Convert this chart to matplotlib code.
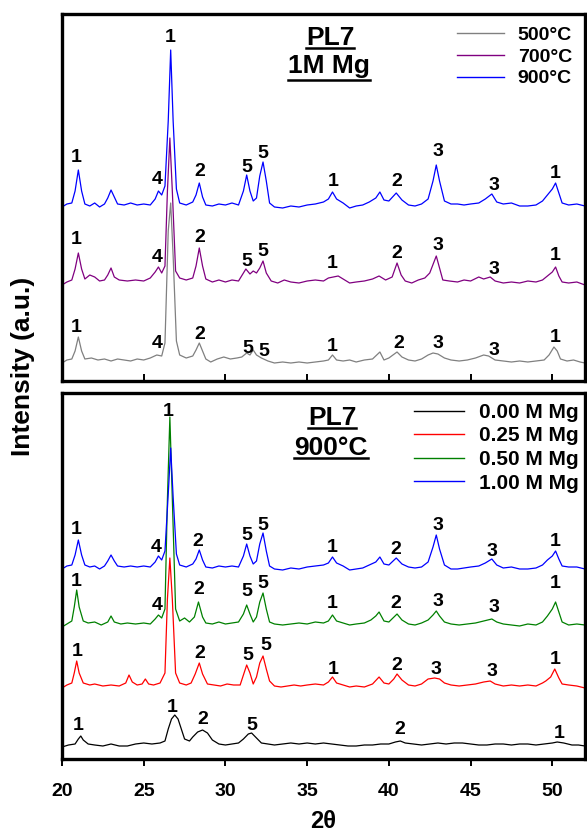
import matplotlib
matplotlib.use('Agg')
import matplotlib.pyplot as plt
from matplotlib.lines import Line2D

plt.rcParams['font.family'] = ['Liberation Sans', 'DejaVu Sans']
plt.rcParams['font.weight'] = 'bold'

W, H = 587, 835

# ---- data: (2theta, intensity a.u.) ----
# top panel: PL7 1M Mg at different temperatures
pts_500 = [(20.0,18),(20.3,21),(20.6,22),(20.8,30),(21.0,44),(21.2,30),(21.4,22),(21.8,23),(22.2,21),
           (22.6,22),(23.0,20),(23.4,22),(23.8,21),(24.2,20),(24.6,22),(25.0,21),(25.4,23),(25.8,26),
           (26.1,25),(26.3,38),(26.5,150),(26.65,178),(26.8,125),(27.0,40),(27.2,26),(27.6,23),(28.0,25),
           (28.2,31),(28.4,38),(28.6,30),(28.8,22),(29.1,19),(29.5,22),(29.9,24),(30.3,22),(30.7,23),
           (31.0,24),(31.3,28),(31.5,26),(31.7,31),(31.9,26),(32.2,23),(32.6,20),(33.0,18),(33.5,19),
           (34.0,18),(34.5,19),(35.0,18),(35.5,19),(36.0,20),(36.3,21),(36.55,26),(36.8,21),(37.2,20),
           (37.6,21),(38.0,19),(38.5,21),(39.0,22),(39.45,29),(39.7,21),(40.0,23),(40.5,29),(40.8,24),
           (41.2,21),(41.6,20),(42.0,22),(42.4,26),(42.7,28),(43.0,27),(43.4,23),(43.8,21),(44.3,20),
           (44.8,21),(45.3,23),(45.8,26),(46.1,25),(46.5,21),(47.0,20),(47.5,19),(48.0,20),(48.5,19),
           (49.0,20),(49.5,21),(49.8,26),(50.1,34),(50.3,30),(50.5,22),(50.9,20),(51.3,21),(51.7,19),(52.0,18)]

pts_700 = [(20.0,96),(20.3,99),(20.6,101),(20.8,112),(21.0,128),(21.2,112),(21.4,102),(21.7,106),(22.0,104),
           (22.3,100),(22.6,101),(22.8,106),(23.0,113),(23.2,104),(23.5,101),(24.0,100),(24.5,101),(25.0,100),
           (25.4,103),(25.7,109),(25.9,114),(26.1,108),(26.3,115),(26.45,190),(26.6,243),(26.75,190),(26.95,110),
           (27.2,103),(27.6,101),(28.0,103),(28.2,115),(28.4,133),(28.6,115),(28.8,102),(29.2,99),(29.6,101),
           (30.0,99),(30.4,101),(30.8,100),(31.1,108),(31.25,112),(31.5,107),(31.7,110),(31.9,108),(32.1,113),
           (32.3,120),(32.5,108),(32.8,100),(33.2,98),(33.6,101),(34.0,99),(34.5,98),(35.0,100),(35.5,101),
           (36.0,100),(36.3,103),(36.6,104),(36.9,105),(37.2,102),(37.6,98),(38.0,99),(38.5,100),(39.0,102),
           (39.4,105),(39.8,101),(40.2,104),(40.5,118),(40.75,106),(41.0,100),(41.4,98),(41.8,101),(42.2,103),
           (42.5,108),(42.9,125),(43.1,113),(43.3,101),(43.7,100),(44.2,99),(44.6,101),(45.0,100),(45.5,104),
           (45.8,102),(46.2,104),(46.5,100),(47.0,98),(47.5,99),(48.0,98),(48.5,100),(49.0,99),(49.4,101),
           (49.7,105),(50.0,109),(50.2,114),(50.4,105),(50.6,99),(51.0,98),(51.5,99),(52.0,96)]

pts_900 = [(20.0,174),(20.3,177),(20.6,178),(20.8,190),(21.0,211),(21.2,190),(21.4,177),(21.7,175),(22.0,178),
           (22.3,174),(22.6,177),(22.8,183),(23.0,191),(23.2,184),(23.4,177),(23.8,176),(24.2,178),(24.6,176),
           (25.0,177),(25.4,176),(25.7,182),(25.9,190),(26.1,186),(26.3,195),(26.5,260),(26.65,331),(26.8,260),
           (27.0,192),(27.2,178),(27.6,176),(28.0,179),(28.2,186),(28.4,198),(28.6,184),(28.8,176),(29.2,175),
           (29.6,177),(30.0,176),(30.4,178),(30.8,176),(31.1,190),(31.3,206),(31.5,190),(31.7,180),(31.9,183),
           (32.1,205),(32.3,219),(32.5,200),(32.7,178),(33.0,174),(33.5,173),(34.0,175),(34.5,174),(35.0,176),
           (35.5,177),(36.0,179),(36.3,182),(36.55,189),(36.8,182),(37.2,178),(37.6,173),(38.0,175),(38.4,176),
           (38.8,179),(39.2,183),(39.45,189),(39.7,181),(40.0,180),(40.45,188),(40.8,181),(41.2,176),(41.6,175),
           (42.0,177),(42.4,182),(42.7,200),(42.9,216),(43.1,200),(43.4,180),(43.8,177),(44.2,177),(44.6,176),
           (45.0,177),(45.5,178),(45.9,182),(46.3,187),(46.6,179),(47.0,177),(47.5,178),(48.0,175),(48.5,175),
           (49.0,176),(49.4,180),(49.7,186),(50.0,192),(50.2,198),(50.4,188),(50.6,178),(51.0,176),(51.5,177),(52.0,175)]

# bottom panel: PL7 900 C at different Mg contents
pts_000 = [(20.0,12),(20.4,14),(20.8,15),(21.0,20),(21.15,23),(21.3,19),(21.6,15),(22.0,14),(22.5,13),
           (23.0,15),(23.5,13),(24.0,13),(24.5,15),(25.0,16),(25.5,15),(26.0,16),(26.3,18),(26.5,30),
           (26.7,40),(26.9,44),(27.1,40),(27.3,30),(27.5,20),(27.8,18),(28.0,22),(28.3,27),(28.6,29),
           (28.9,26),(29.2,19),(29.6,15),(30.0,14),(30.4,15),(30.8,16),(31.1,20),(31.4,25),(31.6,26),
           (31.9,21),(32.2,16),(32.6,15),(33.0,14),(33.5,15),(34.0,16),(34.5,15),(35.0,16),(35.5,15),
           (36.0,16),(36.5,15),(37.0,14),(37.5,13),(38.0,13),(38.5,14),(39.0,14),(39.5,15),(40.0,15),
           (40.4,17),(40.7,18),(41.0,16),(41.5,15),(42.0,14),(42.5,15),(43.0,16),(43.5,15),(44.0,16),
           (44.5,16),(45.0,15),(45.5,14),(46.0,14),(46.5,15),(47.0,15),(47.5,14),(48.0,15),(48.5,15),
           (49.0,14),(49.5,15),(50.0,16),(50.3,17),(50.7,16),(51.2,14),(51.6,14),(52.0,13)]

pts_025 = [(20.0,71),(20.3,74),(20.6,76),(20.75,86),(20.9,98),(21.05,86),(21.3,76),(21.7,74),(22.0,75),
           (22.5,73),(23.0,74),(23.5,73),(23.9,76),(24.1,84),(24.3,77),(24.6,74),(24.9,75),(25.1,80),
           (25.3,75),(25.6,74),(26.0,76),(26.3,86),(26.45,160),(26.6,201),(26.75,160),(26.95,86),(27.2,76),
           (27.6,74),(27.9,76),(28.15,85),(28.4,96),(28.6,85),(28.9,75),(29.3,74),(29.7,73),(30.1,75),
           (30.5,74),(30.9,74),(31.1,84),(31.3,94),(31.5,86),(31.7,75),(31.9,82),(32.1,96),(32.3,103),
           (32.5,90),(32.7,78),(33.0,73),(33.4,72),(33.8,73),(34.2,74),(34.6,73),(35.0,74),(35.5,75),
           (36.0,74),(36.3,77),(36.55,82),(36.8,76),(37.2,74),(37.6,72),(38.0,73),(38.5,72),(39.0,75),
           (39.4,82),(39.7,76),(40.0,75),(40.3,80),(40.5,85),(40.8,79),(41.2,74),(41.6,73),(42.0,75),
           (42.4,80),(42.8,81),(43.1,80),(43.4,76),(43.8,74),(44.3,73),(44.8,74),(45.3,75),(45.8,77),
           (46.2,78),(46.5,75),(47.0,73),(47.5,74),(48.0,73),(48.5,74),(49.0,73),(49.4,76),(49.6,78),
           (49.9,82),(50.15,90),(50.4,81),(50.6,75),(51.0,74),(51.5,73),(52.0,71)]

pts_050 = [(20.0,132),(20.3,135),(20.6,138),(20.75,152),(20.9,169),(21.05,152),(21.3,138),(21.6,136),(22.0,137),
           (22.4,134),(22.8,137),(23.0,143),(23.2,137),(23.6,135),(24.0,136),(24.5,135),(25.0,136),(25.4,135),
           (25.7,140),(25.9,144),(26.1,141),(26.3,150),(26.45,260),(26.6,342),(26.75,260),(26.95,150),(27.2,138),
           (27.5,141),(27.8,137),(28.1,142),(28.35,157),(28.6,142),(28.8,136),(29.2,135),(29.6,137),(30.0,135),
           (30.4,136),(30.8,137),(31.1,145),(31.3,154),(31.5,145),(31.7,137),(31.9,142),(32.1,157),(32.3,166),
           (32.5,150),(32.7,137),(33.0,135),(33.5,134),(34.0,135),(34.5,136),(35.0,135),(35.5,137),(36.0,136),
           (36.3,138),(36.55,144),(36.8,138),(37.2,136),(37.6,134),(38.0,135),(38.5,136),(38.9,139),(39.2,143),
           (39.4,147),(39.7,138),(40.0,137),(40.25,141),(40.5,145),(40.8,139),(41.2,135),(41.6,134),(42.0,136),
           (42.4,139),(42.7,144),(42.9,148),(43.1,143),(43.4,137),(43.8,135),(44.3,134),(44.8,135),(45.3,136),
           (45.8,138),(46.3,140),(46.6,137),(47.0,135),(47.5,134),(48.0,133),(48.5,135),(49.0,134),(49.4,137),
           (49.7,143),(50.0,150),(50.2,157),(50.4,147),(50.6,137),(51.0,134),(51.5,135),(52.0,134)]

pts_100 = [(20.0,190),(20.3,193),(20.6,194),(20.8,204),(21.0,219),(21.2,204),(21.4,194),(21.7,192),(22.0,193),
           (22.3,190),(22.6,193),(22.8,198),(23.0,204),(23.2,198),(23.4,193),(23.8,192),(24.2,193),(24.6,192),
           (25.0,193),(25.4,192),(25.7,197),(25.9,203),(26.1,199),(26.3,208),(26.5,265),(26.65,311),(26.8,262),
           (27.0,205),(27.2,194),(27.6,192),(28.0,195),(28.2,200),(28.4,209),(28.6,199),(28.8,192),(29.2,191),
           (29.6,193),(30.0,192),(30.4,193),(30.8,192),(31.1,203),(31.3,215),(31.5,203),(31.7,195),(31.9,198),
           (32.1,215),(32.3,226),(32.5,208),(32.7,193),(33.0,190),(33.5,189),(34.0,191),(34.5,190),(35.0,192),
           (35.5,193),(36.0,194),(36.3,196),(36.55,202),(36.8,196),(37.2,193),(37.6,189),(38.0,190),(38.4,191),
           (38.8,194),(39.2,197),(39.45,202),(39.7,195),(40.0,194),(40.45,201),(40.8,195),(41.2,192),(41.6,191),
           (42.0,192),(42.4,197),(42.7,212),(42.9,224),(43.1,210),(43.4,194),(43.8,190),(44.2,190),(44.6,191),
           (45.0,192),(45.5,193),(45.9,196),(46.3,200),(46.6,194),(47.0,191),(47.5,192),(48.0,190),(48.5,190),
           (49.0,191),(49.4,194),(49.7,199),(50.0,203),(50.2,208),(50.4,200),(50.6,193),(51.0,192),(51.5,192),(52.0,190)]

# peak labels (2theta, intensity, phase)
lab_500 = [(20.85,54,'1'),(25.85,38,'4'),(28.4,47,'2'),(31.35,33,'5'),(32.35,30,'5'),(36.55,35,'1'),
           (40.6,38,'2'),(43.0,38,'3'),(46.4,31,'3'),(50.2,44,'1')]
lab_700 = [(20.85,141,'1'),(25.85,123,'4'),(28.4,143,'2'),(31.3,120,'5'),(32.3,130,'5'),(36.55,118,'1'),
           (40.5,128,'2'),(43.0,136,'3'),(46.4,112,'3'),(50.2,126,'1')]
lab_900 = [(20.85,224,'1'),(25.8,201,'4'),(26.6,344,'1'),(28.4,209,'2'),(31.3,214,'5'),(32.3,228,'5'),
           (36.6,200,'1'),(40.5,199,'2'),(43.0,229,'3'),(46.4,196,'3'),(50.2,207,'1')]
lab_000 = [(21.0,34,'1'),(26.75,52,'1'),(28.6,40,'2'),(31.6,34,'5'),(40.65,29,'2'),(50.4,26,'1')]
lab_025 = [(20.9,107,'1'),(28.4,106,'2'),(31.35,103,'5'),(32.45,114,'5'),(36.6,90,'1'),(40.5,94,'2'),
           (42.85,90,'3'),(46.3,88,'3'),(50.2,100,'1')]
lab_050 = [(20.85,177,'1'),(25.8,154,'4'),(28.35,169,'2'),(31.3,167,'5'),(32.3,176,'5'),(36.55,156,'1'),
           (40.45,155,'2'),(43.0,158,'3'),(46.4,151,'3'),(50.2,176,'1')]
lab_100 = [(20.85,229,'1'),(25.75,212,'4'),(26.5,348,'1'),(28.3,217,'2'),(31.3,223,'5'),(32.3,233,'5'),
           (36.55,212,'1'),(40.45,209,'2'),(43.0,233,'3'),(46.3,208,'3'),(50.2,217,'1')]

top_series = [('500°C', pts_500, lab_500, '#808080'),
              ('700°C', pts_700, lab_700, '#800080'),
              ('900°C', pts_900, lab_900, '#0000ff')]
bot_series = [('0.00 M Mg', pts_000, lab_000, '#000000'),
              ('0.25 M Mg', pts_025, lab_025, '#ff0000'),
              ('0.50 M Mg', pts_050, lab_050, '#008000'),
              ('1.00 M Mg', pts_100, lab_100, '#0000ff')]

fig = plt.figure(figsize=(W / 100, H / 100), dpi=100)
ax1 = fig.add_axes([62 / W, 1 - 381 / H, 523 / W, 367 / H])
ax2 = fig.add_axes([62 / W, 1 - 759 / H, 523 / W, 366 / H])


def draw_panel(ax, series, ylim):
    for name, pts, labs, col in series:
        xs = [p[0] for p in pts]
        ys = [p[1] for p in pts]
        ax.plot(xs, ys, color=col, lw=0.9, label=name)
        for lx, ly, t in labs:
            ax.text(lx, ly, t, ha='center', va='center', fontsize=14, fontweight='bold')
    ax.set_xlim(20, 52)
    ax.set_ylim(*ylim)
    ax.set_yticks([])
    ax.set_xticks(range(20, 51, 5))
    for s in ax.spines.values():
        s.set_linewidth(2.4)


draw_panel(ax1, top_series, (0, 367))
draw_panel(ax2, bot_series, (0, 366))

ax1.tick_params(axis='x', direction='in', length=5, width=1.4, labelbottom=False)
ax2.tick_params(axis='x', direction='out', length=5, width=1.4, labelsize=14, pad=12)
for lbl in ax2.get_xticklabels():
    lbl.set_fontweight('bold')

leg_kw = dict(frameon=False, borderpad=0, borderaxespad=0, handlelength=2.4,
              handletextpad=0.7, labelspacing=0.22)
leg1 = ax1.legend(loc='upper right', bbox_to_anchor=(0.975, 0.967),
                  prop={'weight': 'bold', 'size': 14}, **leg_kw)
leg2 = ax2.legend(loc='upper right', bbox_to_anchor=(0.988, 0.973),
                  prop={'weight': 'bold', 'size': 15}, **leg_kw)
for leg in (leg1, leg2):
    for h in leg.legend_handles:
        h.set_linewidth(1.0)

# panel titles with underline
titles = [('PL7', 330, 45), ('1M Mg', 329, 73), ('PL7', 332, 425), ('900°C', 331, 455)]
tobjs = []
for txt, px, py in titles:
    t = fig.text(px / W, 1 - py / H, txt, ha='center', va='baseline', fontsize=19, fontweight='bold')
    tobjs.append((t, py))

fig.text(23 / W, 1 - 366 / H, 'Intensity (a.u.)', rotation=90, ha='center', va='center',
         fontsize=19, fontweight='bold')
fig.text(323 / W, 1 - 821 / H, '2θ', ha='center', va='center', fontsize=17, fontweight='bold')

fig.canvas.draw()
for t, py in tobjs:
    bb = t.get_window_extent()
    off = 7 if 'g' in t.get_text() else 3
    yline = 1 - (py + off) / H
    fig.add_artist(Line2D([bb.x0 / W, bb.x1 / W], [yline, yline], color='black', lw=1.8,
                          transform=fig.transFigure))

fig.savefig('out.png', dpi=100)
